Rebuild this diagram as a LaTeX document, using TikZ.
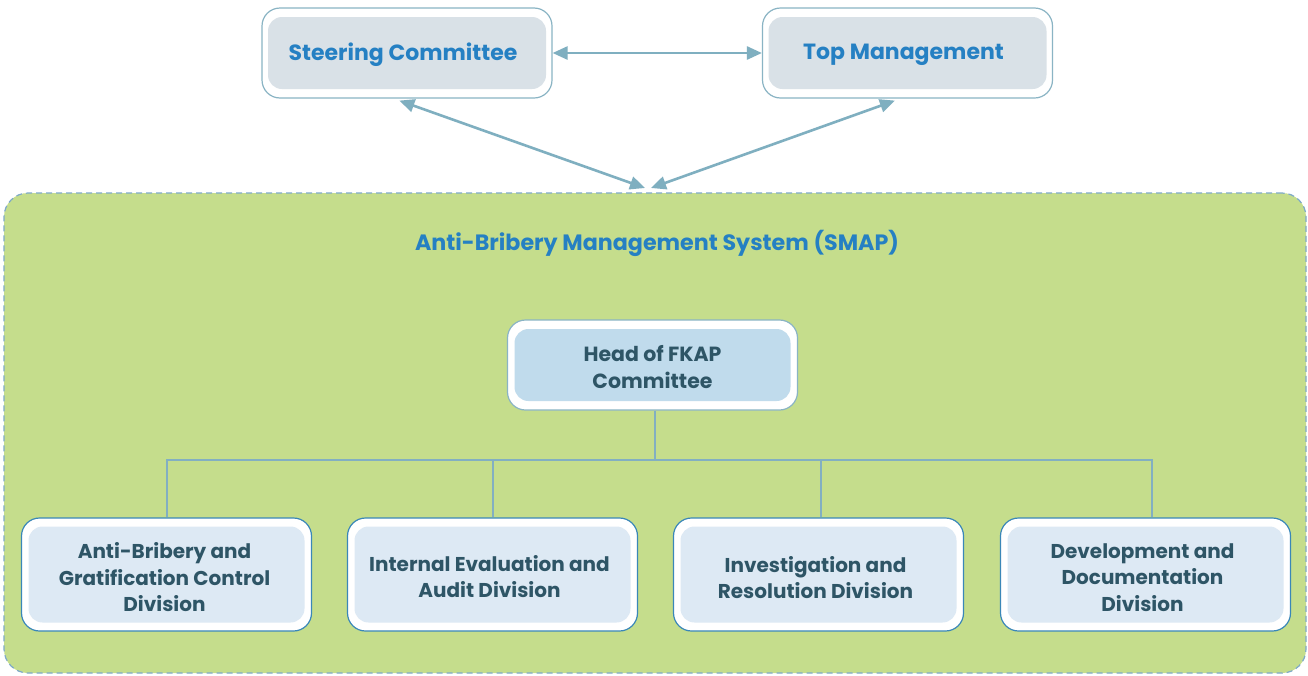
\documentclass[tikz,border=0pt]{standalone}
\usepackage{fontspec}
\setmainfont{Poppins}
\usetikzlibrary{arrows.meta,positioning,calc}
\definecolor{arrowc}{HTML}{7FAFC0}
\definecolor{topborder}{HTML}{8AB4C4}
\definecolor{topfill}{HTML}{D9E1E7}
\definecolor{toptext}{HTML}{2580C3}
\definecolor{greenfill}{HTML}{C5DD8C}
\definecolor{dashc}{HTML}{7FAAC8}
\definecolor{headfill}{HTML}{C0DBEC}
\definecolor{divfill}{HTML}{DDE9F4}
\definecolor{divborder}{HTML}{3A87B8}
\definecolor{darktext}{HTML}{2E5566}
\definecolor{connc}{HTML}{82AFC2}
\tikzset{
  outerbox/.style={draw=#1, line width=1.2pt, fill=white, rounded corners=18pt, minimum width=290pt, inner sep=0pt},
  innerfill/.style={fill=#1, rounded corners=14pt, inner sep=0pt},
  toplabel/.style={text=toptext, font=\fontsize{22}{26}\selectfont\bfseries},
  darklabel/.style={text=darktext, align=center, font=\fontsize{#1}{26.5}\selectfont\bfseries},
  biarrow/.style={arrowc, line width=2.6pt, {Triangle[length=15pt,width=13pt]}-{Triangle[length=15pt,width=13pt]}},
  conn/.style={connc, line width=2pt}
}
\begin{document}
\begin{tikzpicture}[x=1pt,y=-1pt]
\fill[white] (0,0) rectangle (1308,675);
\useasboundingbox (0,0) rectangle (1308,675);
% container
\node[draw=dashc, dashed, dash pattern=on 6pt off 4pt, line width=1.2pt, fill=greenfill, rounded corners=24pt,
  minimum width=1302pt, minimum height=480pt, inner sep=0pt] (smap) at (655,433) {};
\node[toplabel, font=\fontsize{22.2}{26}\selectfont\bfseries] (title) at (657,243) {Anti-Bribery Management System (SMAP)};
% top boxes
\node[outerbox=topborder, minimum height=90pt] (sc) at (407,53) {};
\node[innerfill=topfill, minimum width=278pt, minimum height=72pt] (sci) at (sc.center) {};
\node[toplabel] (sct) at ($(sc.center)+(-4,2)$) {Steering Committee};
\node[outerbox=topborder, minimum height=90pt] (tm) at (907.5,53) {};
\node[innerfill=topfill, minimum width=278pt, minimum height=72pt] (tmi) at (tm.center) {};
\node[toplabel] (tmt) at ($(tm.center)+(-4,2)$) {Top Management};
\draw[biarrow] (sc.east) -- (tm.west);
\coordinate (meetL) at (645,188);
\coordinate (meetR) at (651,188);
\draw[biarrow] ($(sc.south west)+(138,2)$) -- (meetL);
\draw[biarrow] ($(tm.south west)+(133,2)$) -- (meetR);
% head
\node[outerbox=topborder, minimum height=90pt] (head) at (652.5,365) {};
\node[innerfill=headfill, minimum width=276pt, minimum height=72pt] (headi) at (head.center) {};
\node[darklabel=20.5] (headt) at ($(head.center)+(0,2)$) {Head of FKAP\\Committee};
% divisions
\node[outerbox=divborder, minimum height=113pt] (d1) at (166.5,574.5) {};
\node[innerfill=divfill, minimum width=276pt, minimum height=96pt] (d1i) at (d1.center) {};
\node[darklabel=20] (d1t) at ($(d1.center)+(-2,3)$) {Anti-Bribery and\\Gratification Control\\Division};
\node[outerbox=divborder, minimum height=113pt] (d2) at (492.5,574.5) {};
\node[innerfill=divfill, minimum width=276pt, minimum height=96pt] (d2i) at (d2.center) {};
\node[darklabel=20] (d2t) at ($(d2.center)+(-3,2)$) {Internal Evaluation and\\Audit Division};
\node[outerbox=divborder, minimum height=113pt] (d3) at (818.5,574.5) {};
\node[innerfill=divfill, minimum width=276pt, minimum height=96pt] (d3i) at (d3.center) {};
\node[darklabel=20] (d3t) at ($(d3.center)+(-3,3)$) {Investigation and\\Resolution Division};
\node[outerbox=divborder, minimum height=113pt] (d4) at (1145.5,574.5) {};
\node[innerfill=divfill, minimum width=276pt, minimum height=96pt] (d4i) at (d4.center) {};
\node[darklabel=20] (d4t) at ($(d4.center)+(-3,3)$) {Development and\\Documentation\\Division};
% connectors
\coordinate (bus) at (655,460);
\draw[conn] (head.south -| bus) -- (bus);
\draw[conn] (bus) -| (d1.north);
\draw[conn] (bus) -| (d2.north);
\draw[conn] (bus) -| ($(d3.north)+(2,0)$);
\draw[conn] (bus) -| ($(d4.north)+(6,0)$);
\end{tikzpicture}
\end{document}
